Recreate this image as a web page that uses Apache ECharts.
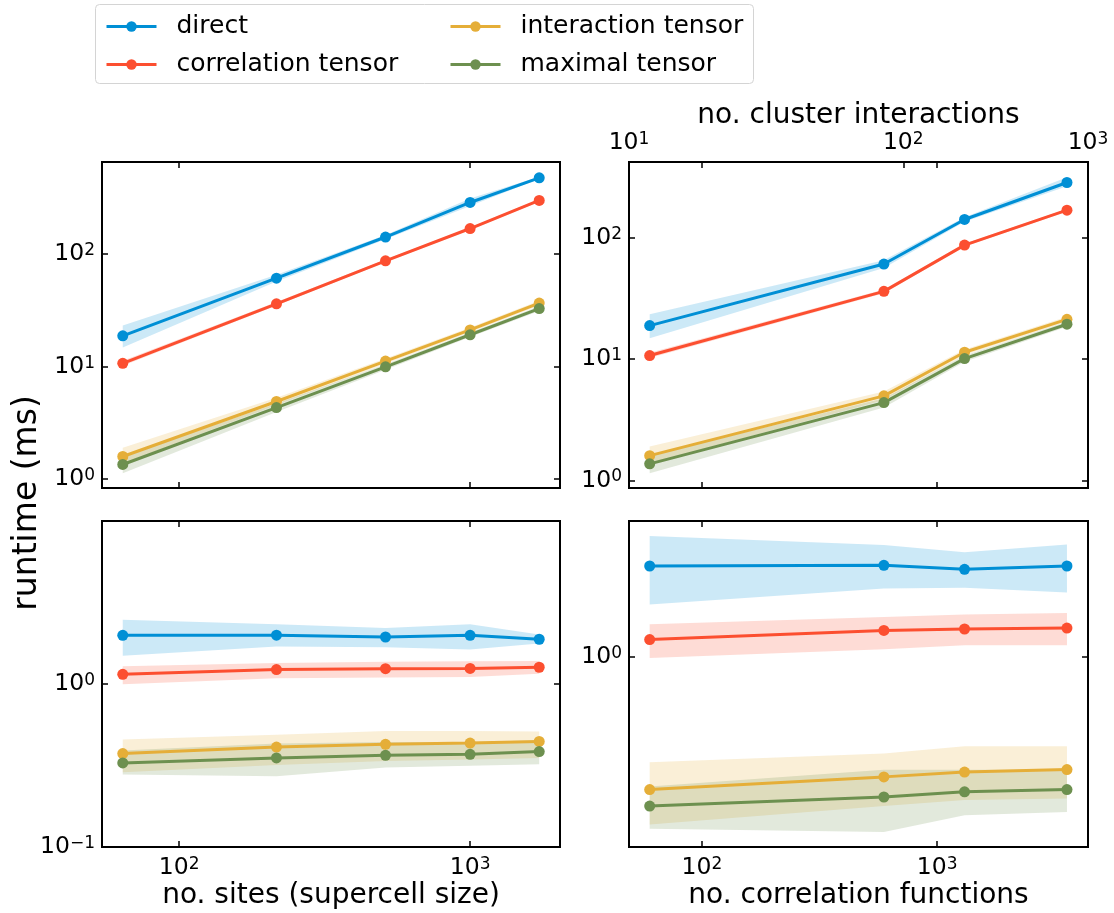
<!DOCTYPE html>
<html>
<head>
<meta charset="utf-8">
<script src="https://cdn.jsdelivr.net/npm/echarts@6/dist/echarts.min.js"></script>
<style>
html, body { margin: 0; padding: 0; background: #fff; }
#chart { width: 1114px; height: 913px; }
</style>
</head>
<body>
<div id="chart"></div>
<script>
const FONT = 'DejaVu Sans';

const seriesNames = ['direct', 'correlation tensor', 'interaction tensor', 'maximal tensor'];
const seriesColors = ['#008fd5', '#fc4f30', '#e5ae38', '#6d904f'];

// x values: supercell sizes (left column) and correlation-function counts (right column)
const nSites = [64, 216, 512, 1000, 1728];
const nCorrFuncs = [60, 594, 1308, 3565];

// secondary top axis of the right column: cluster-interaction counts and where they sit
// on the correlation-function scale
const clusterCounts = [10, 100, 1000];
const clusterCountAt = [49, 718, 4380];

// axis limits
const sitesRange = [54.3, 2037];
const corrRange = [49, 4380];
const topSitesYRange = [0.834, 659.5];
const topCorrYRange = [0.866, 422];
const botSitesYRange = [0.1, 9.9];
const botCorrYRange = [0.2415, 2.765];

// top-left: runtime (ms) vs no. sites — mean, lower and upper edge of the spread
const tsDirect = [18.8, 61.2, 142, 288, 477];
const tsDirectLo = [14.8, 57, 136, 268, 467];
const tsDirectHi = [23.2, 65.5, 148, 312, 487];
const tsCorr = [10.7, 36.2, 87.2, 169, 300];
const tsCorrLo = [10.2, 35.0, 85.0, 165, 293];
const tsCorrHi = [11.3, 37.5, 89.5, 173, 307];
const tsInter = [1.59, 4.9, 11.2, 21.2, 36.7];
const tsInterLo = [1.38, 4.55, 10.6, 20.2, 35.0];
const tsInterHi = [1.9, 5.3, 11.8, 22.3, 38.5];
const tsMax = [1.35, 4.33, 9.96, 19.2, 32.8];
const tsMaxLo = [1.13, 3.95, 9.4, 18.3, 31.3];
const tsMaxHi = [1.58, 4.7, 10.5, 20.1, 34.4];

// top-right: runtime (ms) vs no. correlation functions
const tcDirect = [18.9, 60.8, 141.7, 286];
const tcDirectLo = [14.9, 56.5, 136, 266];
const tcDirectHi = [23.5, 65.5, 148, 316];
const tcCorr = [10.7, 36.2, 87.1, 169];
const tcCorrLo = [10.2, 35.0, 85.0, 165];
const tcCorrHi = [11.3, 37.5, 89.5, 173];
const tcInter = [1.6, 4.98, 11.4, 21.3];
const tcInterLo = [1.38, 4.6, 10.8, 20.3];
const tcInterHi = [1.9, 5.4, 12.0, 22.4];
const tcMax = [1.37, 4.38, 10.1, 19.4];
const tcMaxLo = [1.147, 4.0, 9.5, 18.5];
const tcMaxHi = [1.6, 4.75, 10.7, 20.3];

// bottom-left: runtime (ms) vs no. sites
const bsDirect = [1.975, 1.98, 1.93, 1.975, 1.87];
const bsDirectLo = [1.48, 1.69, 1.67, 1.62, 1.76];
const bsDirectHi = [2.46, 2.31, 2.19, 2.31, 2.0];
const bsCorr = [1.14, 1.22, 1.235, 1.24, 1.26];
const bsCorrLo = [0.99, 1.08, 1.09, 1.10, 1.15];
const bsCorrHi = [1.276, 1.34, 1.36, 1.37, 1.375];
const bsInter = [0.373, 0.409, 0.425, 0.433, 0.443];
const bsInterLo = [0.287, 0.318, 0.336, 0.343, 0.35];
const bsInterHi = [0.455, 0.487, 0.513, 0.513, 0.51];
const bsMax = [0.327, 0.351, 0.364, 0.369, 0.384];
const bsMaxLo = [0.278, 0.271, 0.307, 0.314, 0.321];
const bsMaxHi = [0.39, 0.43, 0.44, 0.44, 0.45];

// bottom-right: runtime (ms) vs no. correlation functions
const bcDirect = [1.975, 1.985, 1.927, 1.975];
const bcDirectLo = [1.48, 1.67, 1.68, 1.62];
const bcDirectHi = [2.47, 2.31, 2.19, 2.32];
const bcCorr = [1.139, 1.22, 1.233, 1.242];
const bcCorrLo = [0.993, 1.059, 1.091, 1.091];
const bcCorrHi = [1.277, 1.349, 1.373, 1.389];
const bcInter = [0.371, 0.408, 0.423, 0.431];
const bcInterLo = [0.286, 0.328, 0.343, 0.347];
const bcInterHi = [0.455, 0.486, 0.513, 0.513];
const bcMax = [0.328, 0.351, 0.365, 0.371];
const bcMaxLo = [0.277, 0.270, 0.306, 0.314];
const bcMaxHi = [0.38, 0.43, 0.43, 0.43];

const panels = [
  { x: nSites, xi: 0, yi: 0,
    mean: [tsDirect, tsCorr, tsInter, tsMax],
    lo: [tsDirectLo, tsCorrLo, tsInterLo, tsMaxLo],
    hi: [tsDirectHi, tsCorrHi, tsInterHi, tsMaxHi] },
  { x: nCorrFuncs, xi: 2, yi: 2,
    mean: [tcDirect, tcCorr, tcInter, tcMax],
    lo: [tcDirectLo, tcCorrLo, tcInterLo, tcMaxLo],
    hi: [tcDirectHi, tcCorrHi, tcInterHi, tcMaxHi] },
  { x: nSites, xi: 4, yi: 4,
    mean: [bsDirect, bsCorr, bsInter, bsMax],
    lo: [bsDirectLo, bsCorrLo, bsInterLo, bsMaxLo],
    hi: [bsDirectHi, bsCorrHi, bsInterHi, bsMaxHi] },
  { x: nCorrFuncs, xi: 6, yi: 6,
    mean: [bcDirect, bcCorr, bcInter, bcMax],
    lo: [bcDirectLo, bcCorrLo, bcInterLo, bcMaxLo],
    hi: [bcDirectHi, bcCorrHi, bcInterHi, bcMaxHi] }
];

function rgba(hex, a) {
  const n = parseInt(hex.slice(1), 16);
  return 'rgba(' + ((n >> 16) & 255) + ',' + ((n >> 8) & 255) + ',' + (n & 255) + ',' + a + ')';
}

const richPow = {
  b: { fontSize: 23.5, fontFamily: FONT, color: '#000', lineHeight: 24 },
  e: { fontSize: 17, fontFamily: FONT, color: '#000', verticalAlign: 'top', lineHeight: 12 }
};

function powLabel(exp) {
  return '{b|10}{e|' + String(exp).replace('-', '\u2212') + '}';
}

// label only the decades of a log axis
function logLabel(v) {
  const e = Math.log10(v);
  const r = Math.round(e);
  if (Math.abs(e - r) > 1e-6) return '';
  return powLabel(r);
}

const tickStyle = { show: true, inside: true, length: 6, lineStyle: { color: '#000', width: 1.5 } };
const nameStyle = { fontSize: 28, fontFamily: FONT, color: '#000' };

function logAxis(grid, position, range, withLabels, margin) {
  return {
    type: 'log', logBase: 10, gridIndex: grid, position: position,
    min: range[0], max: range[1],
    splitLine: { show: false }, axisLine: { show: false },
    axisTick: tickStyle,
    axisLabel: withLabels
      ? { show: true, formatter: logLabel, rich: richPow, margin: margin, fontSize: 23.5, fontFamily: FONT, color: '#000' }
      : { show: false }
  };
}

const clusterPos = clusterCountAt.map(v => Math.log10(v));

const xAxes = [
  logAxis(0, 'bottom', sitesRange, false),
  logAxis(0, 'top', sitesRange, false),
  logAxis(1, 'bottom', corrRange, false),
  {
    type: 'value', gridIndex: 1, position: 'top',
    min: Math.log10(corrRange[0]), max: Math.log10(corrRange[1]),
    splitLine: { show: false }, axisLine: { show: false },
    axisTick: Object.assign({}, tickStyle, { customValues: [2, 3, clusterPos[1]] }),
    axisLabel: {
      show: true, customValues: clusterPos, margin: 7, fontSize: 23.5, fontFamily: FONT, color: '#000', rich: richPow,
      formatter: function (v) {
        let idx = 0, best = Infinity;
        clusterPos.forEach((p, i) => { const d = Math.abs(p - v); if (d < best) { best = d; idx = i; } });
        return powLabel(Math.round(Math.log10(clusterCounts[idx])));
      }
    },
    name: 'no. cluster interactions', nameLocation: 'middle', nameGap: 31, nameTextStyle: nameStyle
  },
  Object.assign(logAxis(2, 'bottom', sitesRange, true, 9),
    { name: 'no. sites (supercell size)', nameLocation: 'middle', nameGap: 35, nameTextStyle: nameStyle }),
  logAxis(2, 'top', sitesRange, false),
  Object.assign(logAxis(3, 'bottom', corrRange, true, 9),
    { name: 'no. correlation functions', nameLocation: 'middle', nameGap: 35, nameTextStyle: nameStyle }),
  logAxis(3, 'top', corrRange, false)
];

const yAxes = [
  logAxis(0, 'left', topSitesYRange, true, 7),
  logAxis(0, 'right', topSitesYRange, false),
  logAxis(1, 'left', topCorrYRange, true, 7),
  logAxis(1, 'right', topCorrYRange, false),
  logAxis(2, 'left', botSitesYRange, true, 7),
  logAxis(2, 'right', botSitesYRange, false),
  logAxis(3, 'left', botCorrYRange, true, 7),
  logAxis(3, 'right', botCorrYRange, false)
];

const series = [];
panels.forEach(p => {
  // spread bands underneath all lines
  for (let k = 0; k < 4; k++) {
    const x = p.x, lo = p.lo[k], hi = p.hi[k], fill = rgba(seriesColors[k], 0.2);
    series.push({
      type: 'custom', xAxisIndex: p.xi, yAxisIndex: p.yi, silent: true, z: 1,
      data: x.map((v, i) => [v, lo[i], hi[i]]),
      encode: { x: 0, y: [1, 2] },
      renderItem: function (params, api) {
        if (params.dataIndex !== 0) return null;
        const pts = [];
        for (let i = 0; i < x.length; i++) pts.push(api.coord([x[i], hi[i]]));
        for (let i = x.length - 1; i >= 0; i--) pts.push(api.coord([x[i], lo[i]]));
        return { type: 'polygon', shape: { points: pts }, style: { fill: fill, stroke: null } };
      }
    });
  }
  for (let k = 0; k < 4; k++) {
    series.push({
      type: 'line', name: seriesNames[k], xAxisIndex: p.xi, yAxisIndex: p.yi, z: 3,
      data: p.x.map((v, i) => [v, p.mean[k][i]]),
      symbol: 'circle', symbolSize: 11, showSymbol: true,
      lineStyle: { width: 3, color: seriesColors[k] },
      itemStyle: { color: seriesColors[k] },
      emphasis: { disabled: true }
    });
  }
});

const legendText = { fontSize: 25, fontFamily: FONT, color: '#000', lineHeight: 25, padding: [0, 0, 0, 15] };
const legendBase = {
  orient: 'vertical', top: 14, itemWidth: 50, itemHeight: 13, itemGap: 13, padding: 0,
  textStyle: legendText, selectedMode: false,
  lineStyle: { width: 3 }
};

const option = {
  animation: false,
  backgroundColor: '#fff',
  color: seriesColors,
  grid: [
    { left: 102, top: 162, width: 458, height: 326 },
    { left: 629, top: 162, width: 459, height: 326 },
    { left: 102, top: 521, width: 458, height: 326 },
    { left: 629, top: 521, width: 459, height: 326 }
  ].map(g => Object.assign(g, {
    show: true, borderColor: '#000', borderWidth: 2, backgroundColor: 'transparent',
    containLabel: false, outerBoundsMode: 'none'
  })),
  xAxis: xAxes,
  yAxis: yAxes,
  legend: [
    Object.assign({ left: 105, data: ['direct', 'correlation tensor'] }, legendBase),
    Object.assign({ left: 449, data: ['interaction tensor', 'maximal tensor'] }, legendBase)
  ],
  graphic: [
    { type: 'rect', z: -10, shape: { x: 95.5, y: 4.5, width: 658, height: 79, r: 4 },
      style: { fill: '#fff', stroke: '#d4d4d4', lineWidth: 1 } },
    { type: 'text', x: 27, y: 503, rotation: Math.PI / 2,
      style: { text: 'runtime (ms)', fontSize: 33, fontFamily: FONT, fill: '#000', align: 'center', verticalAlign: 'middle' } }
  ],
  series: series
};

const chart = echarts.init(document.getElementById('chart'), null, { renderer: 'canvas' });
chart.setOption(option);
</script>
</body>
</html>
